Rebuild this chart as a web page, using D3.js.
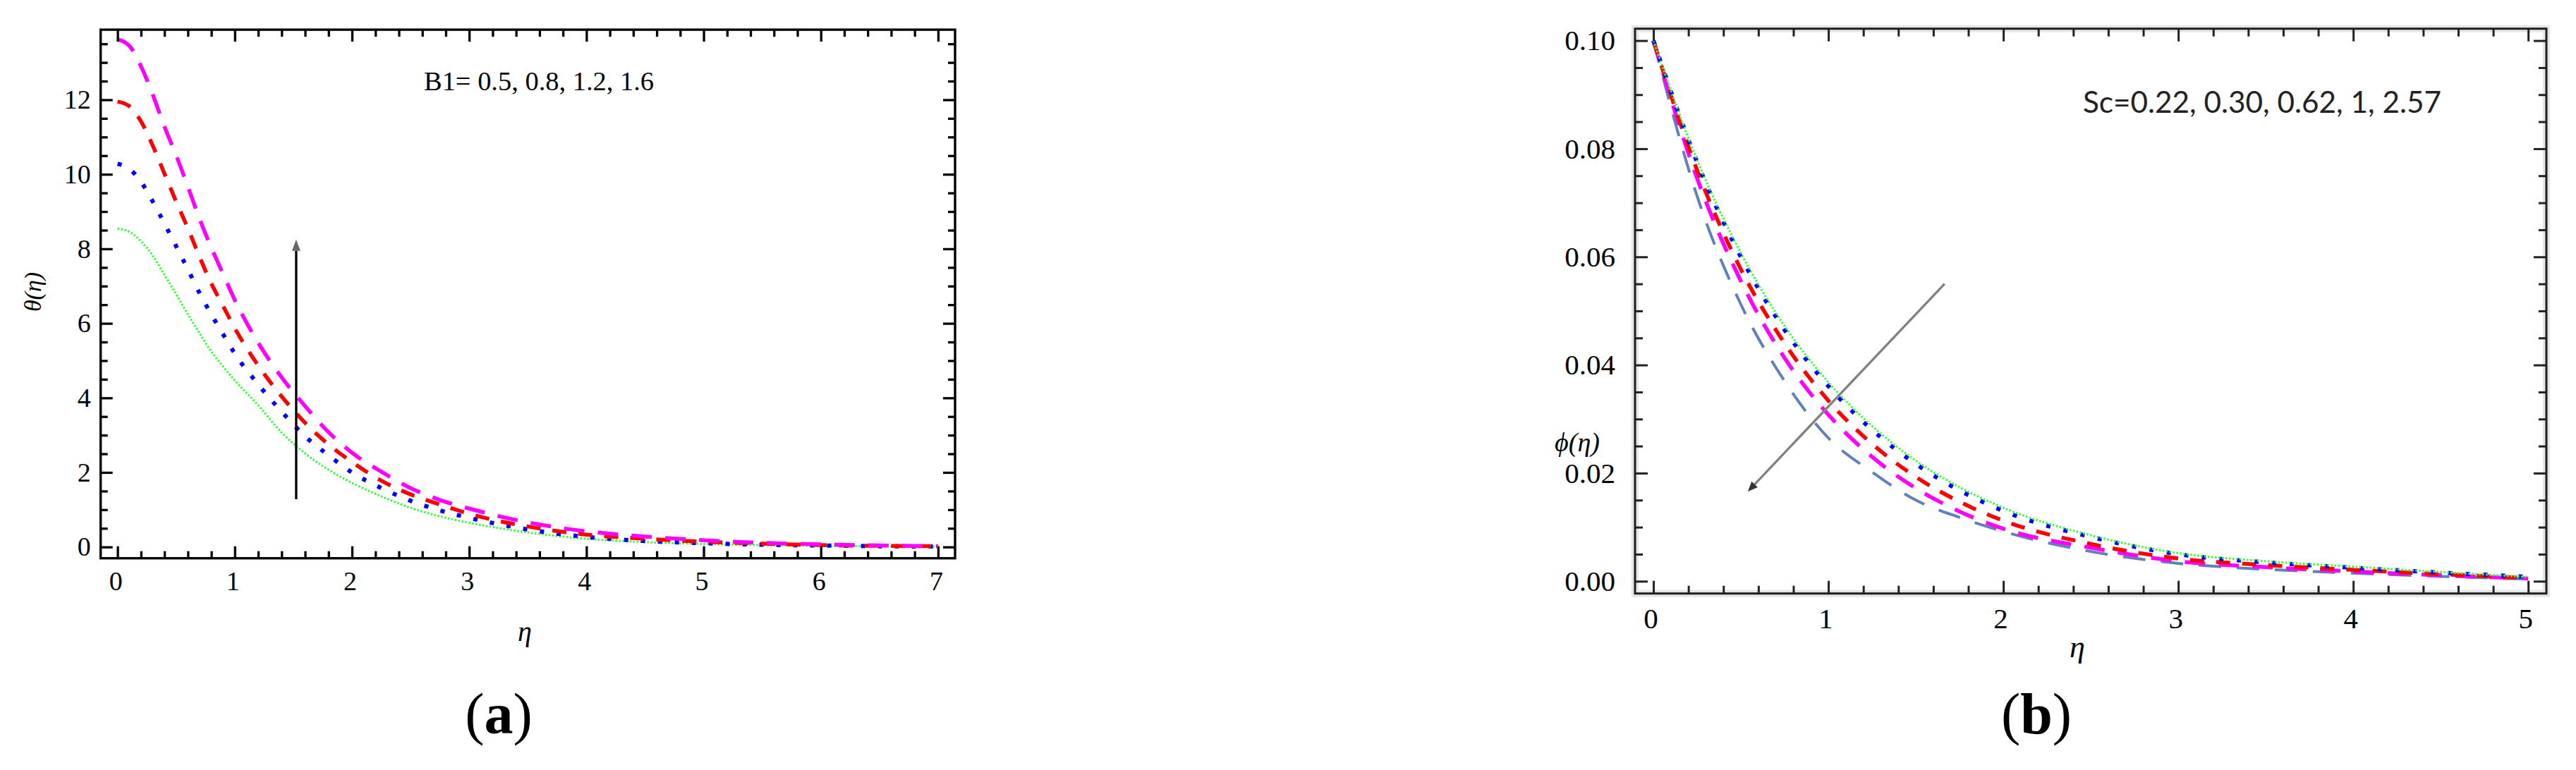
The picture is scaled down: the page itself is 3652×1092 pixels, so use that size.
<!DOCTYPE html>
<html><head><meta charset="utf-8">
<script src="https://cdn.jsdelivr.net/npm/d3@7"></script>
<style>body{margin:0;background:#fff} svg{display:block}</style>
</head><body>
<svg id="c" width="3652" height="1092"></svg>
<script>
// ---------- Panel (a) data : theta(eta) for B1 = 0.5, 0.8, 1.2, 1.6 ----------
const etaA = [0,0.1,0.2,0.3,0.4,0.5,0.6,0.7,0.8,0.9,1.0,1.2,1.4,1.6,1.8,2.0,2.25,2.5,2.75,3.0,3.5,4.0,4.5,5.0,5.5,6.0,6.5,7.0];
const thetaB1_05 = [8.54,8.46,8.20,7.82,7.30,6.78,6.24,5.73,5.24,4.84,4.47,3.80,3.07,2.51,2.07,1.72,1.36,1.05,0.82,0.65,0.39,0.22,0.13,0.08,0.05,0.03,0.02,0.01];
const thetaB1_08 = [10.28,10.15,9.80,9.27,8.68,8.07,7.45,6.81,6.24,5.71,5.19,4.36,3.63,2.97,2.46,2.00,1.58,1.24,0.98,0.78,0.47,0.27,0.16,0.10,0.06,0.04,0.02,0.01];
const thetaB1_12 = [11.95,11.83,11.42,10.77,10.02,9.27,8.55,7.78,7.07,6.47,5.87,4.87,4.04,3.33,2.75,2.28,1.78,1.41,1.14,0.89,0.55,0.33,0.22,0.14,0.09,0.05,0.03,0.02];
const thetaB1_16 = [13.62,13.45,12.90,12.14,11.28,10.51,9.67,8.80,8.03,7.33,6.63,5.48,4.55,3.78,3.08,2.53,2.02,1.58,1.26,1.03,0.66,0.42,0.28,0.18,0.11,0.07,0.04,0.02];
const xTicksA = [0,1,2,3,4,5,6,7];
const yTicksA = [0,2,4,6,8,10,12];
const arrowA = {from:[1.524,1.28], to:[1.524,8.25]};
const noteA = "B1= 0.5, 0.8, 1.2, 1.6";

// ---------- Panel (b) data : phi(eta) for Sc = 0.22, 0.30, 0.62, 1, 2.57 ----------
const etaB = [0,0.25,0.5,0.75,1,1.25,1.5,1.75,2,2.5,3,3.5,4,4.5,5];
const phiSc022 = [0.1000,0.0779,0.0607,0.0472,0.0368,0.0287,0.0223,0.0174,0.0136,0.0085,0.0052,0.0037,0.0027,0.0017,0.0008];
const phiSc030 = [0.1000,0.0775,0.0600,0.0465,0.0361,0.0280,0.0217,0.0168,0.0130,0.0082,0.0050,0.0035,0.0025,0.0016,0.0008];
const phiSc062 = [0.1000,0.0760,0.0577,0.0440,0.0334,0.0254,0.0193,0.0147,0.0112,0.0069,0.0042,0.0030,0.0021,0.0013,0.0006];
const phiSc1   = [0.1000,0.0745,0.0555,0.0413,0.0308,0.0230,0.0172,0.0129,0.0097,0.0062,0.0037,0.0026,0.0018,0.0011,0.0005];
const phiSc257 = [0.1000,0.0712,0.0512,0.0370,0.0265,0.0202,0.0150,0.0118,0.0092,0.0055,0.0033,0.0022,0.0015,0.0009,0.0004];
const xTicksB = [0,1,2,3,4,5];
const yTicksB = [0,0.02,0.04,0.06,0.08,0.10];
const arrowB = {from:[1.664,0.055], to:[0.54,0.0166]};
const noteB = "Sc=0.22, 0.30, 0.62, 1, 2.57";

const svg = d3.select('#c');
const SERIF = "'Liberation Serif','Times New Roman',serif";

function range(a,b,s){const r=[];for(let i=0;;i++){const v=+(a+i*s).toFixed(6);if(v>b+1e-9)break;r.push(v);}return r;}

function panel(o){
  const g = svg.append('g');
  const x = d3.scaleLinear().domain(o.xd).range(o.xr);
  const y = d3.scaleLinear().domain(o.yd).range(o.yr);
  const [x0,x1] = o.xr, [y0,y1] = o.yr;

  if(o.halo){
    g.append('rect').attr('x',x0).attr('y',y1).attr('width',x1-x0).attr('height',y0-y1)
      .attr('fill','none').attr('stroke','#e6e6e6').attr('stroke-width',10);
  }

  // curves
  o.series.forEach(s=>{
    const line = d3.line().x((d,i)=>x(o.eta[i])).y(d=>y(d)).curve(d3.curveMonotoneX);
    g.append('path').attr('d',line(s.values)).attr('fill','none')
      .attr('stroke',s.color).attr('stroke-width',s.w)
      .attr('stroke-dasharray',s.dash).attr('stroke-linecap','butt');
  });

  // axes (ticks inward on all four sides)
  const minorX = range(0,o.xMax,0.2).filter(v=>!o.xt.some(t=>Math.abs(t-v)<1e-6));
  const minorY = range(0,o.yMax,o.yMinor).filter(v=>!o.yt.some(t=>Math.abs(t-v)<1e-9));
  function ax(fn, scale, vals, size, fmt, pad, tr){
    const a = g.append('g').attr('transform',tr)
      .call(fn(scale).tickValues(vals).tickSize(-size).tickPadding(pad).tickFormat(fmt));
    a.select('.domain').remove();
    a.selectAll('line').attr('stroke',o.tickColor).attr('stroke-width',o.tickW);
    a.attr('font-size',null).attr('font-family',null);
    a.selectAll('text').attr('font-family',SERIF).attr('font-size',o.fs).attr('fill','#000');
    return a;
  }
  const none = ()=> '';
  ax(d3.axisBottom, x, o.xt, o.major, d3.format('d'), o.xPad, `translate(0,${y0})`)
    .selectAll('text').attr('dx', o.xDx);
  ax(d3.axisBottom, x, minorX, o.minor, none, 0, `translate(0,${y0})`);
  ax(d3.axisTop, x, o.xt, o.major, none, 0, `translate(0,${y1})`);
  ax(d3.axisTop, x, minorX, o.minor, none, 0, `translate(0,${y1})`);
  ax(d3.axisLeft, y, o.yt, o.major, o.yFmt, o.yPad, `translate(${x0},0)`);
  ax(d3.axisLeft, y, minorY, o.minor, none, 0, `translate(${x0},0)`);
  ax(d3.axisRight, y, o.yt, o.major, none, 0, `translate(${x1},0)`);
  ax(d3.axisRight, y, minorY, o.minor, none, 0, `translate(${x1},0)`);

  // frame
  g.append('rect').attr('x',x0).attr('y',y1).attr('width',x1-x0).attr('height',y0-y1)
    .attr('fill','none').attr('stroke',o.frameColor).attr('stroke-width',o.frameW);

  // arrow
  const ax1 = x(o.arrow.from[0]), ay1 = y(o.arrow.from[1]);
  const ax2 = x(o.arrow.to[0]), ay2 = y(o.arrow.to[1]);
  const ang = Math.atan2(ay2-ay1, ax2-ax1);
  const L = o.headL, W = o.headW;
  const bx = ax2 - L*Math.cos(ang), by = ay2 - L*Math.sin(ang);
  g.append('line').attr('x1',ax1).attr('y1',ay1).attr('x2',bx).attr('y2',by)
    .attr('stroke',o.arrowColor).attr('stroke-width',o.arrowW);
  g.append('path').attr('d',`M${ax2},${ay2}L${bx - W*Math.sin(ang)},${by + W*Math.cos(ang)}L${bx + W*Math.sin(ang)},${by - W*Math.cos(ang)}Z`)
    .attr('fill',o.headColor);

  return {g,x,y};
}

// ---------- Panel (a) ----------
const A = panel({
  xd:[-0.144,7.145], xr:[142.7,1354], yd:[-0.303,13.88], yr:[791.7,42.1],
  eta:etaA, xt:xTicksA, yt:yTicksA, xMax:7, yMax:13.5, yMinor:0.5,
  yFmt:d3.format('d'), fs:38, xPad:18, yPad:14, xDx:'-3',
  major:17, minor:10, tickW:3.3, tickColor:'#000', frameW:3.4, frameColor:'#000', halo:false,
  arrow:arrowA, arrowColor:'#000', arrowW:3.3, headColor:'#666', headL:16, headW:6,
  series:[
    {values:thetaB1_05, color:'#33ff33', w:3,   dash:'2.5,2.5'},
    {values:thetaB1_08, color:'#0000ff', w:6,   dash:'6,18'},
    {values:thetaB1_12, color:'#ff0000', w:5.5, dash:'20,17'},
    {values:thetaB1_16, color:'#ff00ff', w:5.5, dash:'29,19'}
  ]
});
A.g.append('text').attr('x',601).attr('y',128).attr('font-family',SERIF).attr('font-size',38)
  .attr('textLength',326).attr('lengthAdjust','spacingAndGlyphs').text(noteA);
A.g.append('text').attr('transform','translate(58,414) rotate(-90)').attr('text-anchor','middle')
  .attr('font-family',SERIF).attr('font-style','italic').attr('font-size',34).text('θ(η)');
A.g.append('text').attr('x',744).attr('y',909).attr('text-anchor','middle')
  .attr('font-family',SERIF).attr('font-style','italic').attr('font-size',40).text('η');
const la = A.g.append('text').attr('x',707).attr('y',1040).attr('text-anchor','middle')
  .attr('font-family',SERIF).attr('font-size',82);
la.append('tspan').text('(');
la.append('tspan').attr('font-weight','bold').text('a');
la.append('tspan').text(')');

// ---------- Panel (b) ----------
const B = panel({
  xd:[-0.105,5.104], xr:[2318,3610], yd:[-0.00227,0.1022], yr:[841.7,40.7],
  eta:etaB, xt:xTicksB, yt:yTicksB, xMax:5, yMax:0.1, yMinor:0.005,
  yFmt:d3.format('.2f'), fs:41, xPad:20, yPad:28, xDx:'-4',
  major:18, minor:11, tickW:3, tickColor:'#222', frameW:3, frameColor:'#1e1e1e', halo:true,
  arrow:arrowB, arrowColor:'#808080', arrowW:3.3, headColor:'#333', headL:14, headW:6,
  series:[
    {values:phiSc257, color:'#6080b8', w:4,   dash:'32,22'},
    {values:phiSc1,   color:'#ff00ff', w:5.5, dash:'29,19'},
    {values:phiSc062, color:'#ff0000', w:5.5, dash:'20,17'},
    {values:phiSc030, color:'#0000ff', w:6,   dash:'6,19'},
    {values:phiSc022, color:'#33ff33', w:3,   dash:'2.5,2.5'}
  ]
});
B.g.append('text').attr('x',2953).attr('y',160).attr('font-family',"Lato,'Open Sans',sans-serif")
  .attr('font-size',43).attr('fill','#222')
  .attr('textLength',508).attr('lengthAdjust','spacingAndGlyphs').text(noteB);
B.g.append('text').attr('x',2236).attr('y',640).attr('text-anchor','middle')
  .attr('font-family',SERIF).attr('font-style','italic').attr('font-size',38).text('ϕ(η)');
B.g.append('text').attr('x',2945).attr('y',932).attr('text-anchor','middle')
  .attr('font-family',SERIF).attr('font-style','italic').attr('font-size',44).text('η');
const lb = B.g.append('text').attr('x',2887).attr('y',1040).attr('text-anchor','middle')
  .attr('font-family',SERIF).attr('font-size',82);
lb.append('tspan').text('(');
lb.append('tspan').attr('font-weight','bold').text('b');
lb.append('tspan').text(')');
</script>
</body></html>
